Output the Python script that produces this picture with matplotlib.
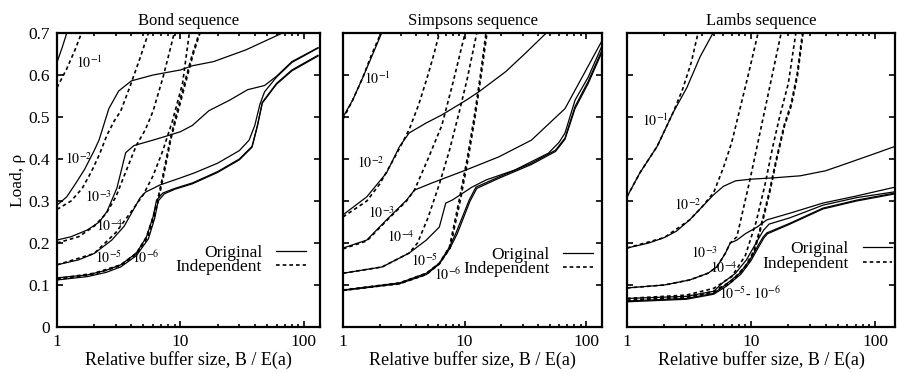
import matplotlib
matplotlib.use("Agg")
import matplotlib.pyplot as plt
from matplotlib.lines import Line2D
from matplotlib.ticker import LogLocator, NullFormatter, FixedLocator

plt.rcParams['font.family'] = ['Liberation Serif', 'DejaVu Serif']
plt.rcParams['mathtext.fontset'] = 'stix'

titles = ["Bond sequence", "Simpsons sequence", "Lambs sequence"]
loss_labels = ["$10^{-1}$", "$10^{-2}$", "$10^{-3}$", "$10^{-4}$", "$10^{-5}$", "$10^{-6}$"]
y_ticks = [0, 0.1, 0.2, 0.3, 0.4, 0.5, 0.6, 0.7]
x_ticks = [1, 10, 100]

# ---- Bond sequence ----
bond_o1_x = [1, 1.1, 1.2]
bond_o1_y = [0.63, 0.665, 0.70]
bond_d1_x = [1, 1.2, 1.4, 1.58]
bond_d1_y = [0.57, 0.615, 0.66, 0.70]
bond_o2_x = [1, 1.2, 1.44, 1.67, 2.0, 2.19, 2.63, 3.16, 4.0, 6.0, 10, 12.5, 18.6, 34, 67]
bond_o2_y = [0.29, 0.31, 0.345, 0.375, 0.42, 0.445, 0.52, 0.562, 0.586, 0.60, 0.612, 0.622, 0.632, 0.66, 0.70]
bond_d2_x = [1, 1.3, 1.6, 1.9, 2.2, 2.54, 2.9, 3.28, 3.94, 4.7, 5.5]
bond_d2_y = [0.28, 0.30, 0.33, 0.37, 0.41, 0.457, 0.49, 0.514, 0.576, 0.64, 0.70]
bond_o3_x = [1, 1.3, 1.76, 2.2, 2.54, 3.05, 3.3, 3.6, 4.2, 6, 8.2, 10, 12.5, 17, 25, 35, 48, 60, 80, 130]
bond_o3_y = [0.207, 0.215, 0.231, 0.25, 0.275, 0.33, 0.37, 0.415, 0.432, 0.445, 0.457, 0.465, 0.48, 0.515, 0.54, 0.565, 0.575, 0.597, 0.632, 0.665]
bond_d3_x = [1, 1.5, 2, 2.5, 3, 3.5, 4.4, 5.2, 6.0, 7.2, 8.3, 8.9]
bond_d3_y = [0.20, 0.215, 0.24, 0.27, 0.31, 0.36, 0.433, 0.47, 0.514, 0.593, 0.664, 0.70]
bond_o4_x = [1, 1.5, 2, 2.78, 3.5, 3.94, 4.7, 5.2, 6, 6.8, 10, 13, 20, 30, 36, 40, 44, 48, 60, 80, 130]
bond_o4_y = [0.148, 0.16, 0.175, 0.207, 0.24, 0.267, 0.307, 0.321, 0.33, 0.338, 0.355, 0.367, 0.39, 0.42, 0.445, 0.48, 0.53, 0.56, 0.595, 0.63, 0.664]
bond_d4_x = [1, 2, 3, 4, 5.0, 6.0, 7.2, 8.6, 10.4, 11.8]
bond_d4_y = [0.148, 0.175, 0.225, 0.275, 0.315, 0.36, 0.42, 0.49, 0.58, 0.70]
bond_o5_x = [1, 1.76, 2.5, 3.28, 4.4, 5.3, 6.0, 6.4, 7.2, 9, 12.5, 20, 30, 38, 42, 46, 60, 80, 130]
bond_o5_y = [0.117, 0.124, 0.135, 0.148, 0.176, 0.214, 0.262, 0.302, 0.319, 0.33, 0.343, 0.37, 0.40, 0.43, 0.48, 0.535, 0.58, 0.612, 0.647]
bond_o6_x = [1, 1.76, 2.5, 3.28, 4.4, 5.5, 6.2, 6.6, 7.4, 9, 12.5, 20, 30, 38, 42, 46, 60, 80, 130]
bond_o6_y = [0.112, 0.12, 0.13, 0.143, 0.17, 0.21, 0.26, 0.30, 0.317, 0.328, 0.341, 0.368, 0.398, 0.428, 0.478, 0.533, 0.578, 0.61, 0.645]
bond_d5_x = [1, 2, 3.28, 4.4, 5.3, 6.0, 6.5, 7.2, 8.3, 9.5, 11, 12.5, 14.2]
bond_d5_y = [0.115, 0.128, 0.148, 0.176, 0.214, 0.262, 0.30, 0.36, 0.45, 0.52, 0.59, 0.65, 0.70]
bond_d6_x = [1, 2, 3.28, 4.4, 5.4, 6.1, 6.6, 7.3, 8.4, 9.7, 11.2, 12.7, 14.4]
bond_d6_y = [0.113, 0.126, 0.146, 0.174, 0.212, 0.26, 0.30, 0.36, 0.45, 0.52, 0.59, 0.65, 0.70]

# ---- Simpsons sequence ----
simp_o1_x = [1, 1.2, 1.46, 1.7, 2.08]
simp_o1_y = [0.50, 0.54, 0.595, 0.64, 0.70]
simp_d1_x = [1, 1.2, 1.46, 1.7, 2.05]
simp_d1_y = [0.495, 0.54, 0.595, 0.645, 0.70]
simp_o2_x = [1, 1.57, 2.28, 2.92, 3.5, 4.85, 6.5, 10.3, 13.1, 21.8, 31.7, 47]
simp_o2_y = [0.267, 0.31, 0.367, 0.43, 0.462, 0.486, 0.505, 0.54, 0.56, 0.608, 0.652, 0.70]
simp_d2_x = [1, 1.57, 2.0, 2.56, 3.1, 3.5, 4.2, 5.0, 5.6, 6.2]
simp_d2_y = [0.262, 0.30, 0.34, 0.395, 0.44, 0.47, 0.53, 0.60, 0.65, 0.70]
simp_o3_x = [1, 1.57, 2.28, 3.33, 3.87, 5.4, 10.3, 19.1, 35.5, 67, 140]
simp_o3_y = [0.188, 0.207, 0.255, 0.302, 0.326, 0.343, 0.374, 0.405, 0.445, 0.52, 0.69]
simp_d3_x = [1, 1.57, 2.28, 3.33, 3.87, 5.0, 6.5, 8.0, 10.1]
simp_d3_y = [0.186, 0.205, 0.253, 0.30, 0.326, 0.40, 0.48, 0.58, 0.70]
simp_o4_x = [1, 2.1, 3.5, 4.85, 6.2, 7.0, 7.9, 11.5, 15, 26, 49, 60, 67, 81, 104, 140]
simp_o4_y = [0.128, 0.143, 0.176, 0.207, 0.238, 0.295, 0.302, 0.333, 0.35, 0.374, 0.414, 0.44, 0.462, 0.54, 0.595, 0.68]
simp_d4_x = [1, 2.1, 3.5, 4.1, 5, 6.2, 7.5, 9, 10.5, 12.6]
simp_d4_y = [0.128, 0.143, 0.176, 0.20, 0.26, 0.34, 0.42, 0.51, 0.59, 0.70]
simp_o5_x = [1, 2.92, 4.85, 6.2, 7.5, 8.5, 10.9, 12.4, 19.1, 35.5, 56, 67, 81, 104, 140]
simp_o5_y = [0.088, 0.105, 0.128, 0.152, 0.19, 0.224, 0.302, 0.333, 0.357, 0.39, 0.421, 0.45, 0.525, 0.585, 0.67]
simp_o6_x = [1, 2.92, 4.85, 6.2, 7.6, 8.7, 11.1, 12.6, 19.1, 35.5, 56, 67, 81, 104, 140]
simp_o6_y = [0.087, 0.103, 0.125, 0.15, 0.188, 0.222, 0.30, 0.33, 0.354, 0.387, 0.418, 0.447, 0.52, 0.58, 0.665]
simp_d5_x = [1, 2.92, 4.85, 6.2, 7.5, 9, 10.5, 12, 13.5, 15]
simp_d5_y = [0.088, 0.105, 0.128, 0.152, 0.19, 0.30, 0.40, 0.50, 0.60, 0.70]
simp_d6_x = [1, 2.92, 4.85, 6.2, 7.6, 9.2, 10.7, 12.2, 13.7, 15.3]
simp_d6_y = [0.087, 0.103, 0.125, 0.15, 0.188, 0.30, 0.40, 0.50, 0.60, 0.70]

# ---- Lambs sequence ----
lamb_o1_x = [1, 1.27, 1.75, 2.35, 3.04, 3.88, 4.94]
lamb_o1_y = [0.31, 0.367, 0.43, 0.51, 0.57, 0.643, 0.70]
lamb_d1_x = [1, 1.27, 1.75, 2.35, 2.8, 3.3, 3.74]
lamb_d1_y = [0.31, 0.367, 0.43, 0.51, 0.565, 0.63, 0.70]
lamb_o2_x = [1, 1.5, 2, 2.5, 3.2, 4, 5, 6, 7.5, 10, 15, 25, 40, 60, 100, 145]
lamb_o2_y = [0.188, 0.2, 0.213, 0.228, 0.255, 0.285, 0.315, 0.335, 0.348, 0.352, 0.355, 0.36, 0.372, 0.39, 0.413, 0.43]
lamb_d2_x = [1, 2, 3.2, 4, 5, 6, 7, 8, 9.5, 11.4]
lamb_d2_y = [0.188, 0.213, 0.255, 0.285, 0.32, 0.38, 0.44, 0.51, 0.60, 0.70]
lamb_o3_x = [1, 2, 3.2, 4.5, 5.3, 6.2, 6.8, 7.7, 9, 11.2, 13.4, 20.6, 38, 71, 145]
lamb_o3_y = [0.093, 0.10, 0.112, 0.128, 0.143, 0.175, 0.20, 0.207, 0.222, 0.238, 0.255, 0.271, 0.295, 0.312, 0.333]
lamb_d3_x = [1, 2, 3.2, 4.5, 5.3, 6.2, 6.8, 7.7, 9.8, 13, 17.5]
lamb_d3_y = [0.093, 0.10, 0.112, 0.128, 0.143, 0.175, 0.20, 0.215, 0.35, 0.52, 0.70]
lamb_o4_x = [1, 3, 5, 5.9, 7.5, 9.2, 10.5, 11.7, 12.6, 14, 20.6, 38, 71, 145]
lamb_o4_y = [0.068, 0.073, 0.085, 0.105, 0.128, 0.16, 0.19, 0.214, 0.23, 0.245, 0.26, 0.29, 0.308, 0.322]
lamb_d4_x = [1, 3, 5, 7, 9, 11, 13, 15, 17, 20, 23]
lamb_d4_y = [0.068, 0.076, 0.092, 0.12, 0.17, 0.25, 0.34, 0.43, 0.50, 0.58, 0.70]
lamb_o5_x = [1, 3, 5, 6.2, 8.1, 9.8, 11.2, 12.5, 13.4, 20.6, 38, 71, 145]
lamb_o5_y = [0.062, 0.068, 0.08, 0.10, 0.128, 0.16, 0.19, 0.214, 0.224, 0.247, 0.283, 0.302, 0.319]
lamb_o6_x = [1, 3, 5, 6.4, 8.3, 10, 11.4, 12.7, 13.6, 20.6, 38, 71, 145]
lamb_o6_y = [0.06, 0.066, 0.078, 0.098, 0.126, 0.158, 0.188, 0.212, 0.222, 0.245, 0.281, 0.30, 0.317]
lamb_d5_x = [1, 3, 5, 7, 9, 10.5, 12, 14, 16, 18.5, 21, 23.5, 26]
lamb_d5_y = [0.064, 0.072, 0.085, 0.11, 0.145, 0.18, 0.24, 0.32, 0.40, 0.48, 0.53, 0.60, 0.70]
lamb_d6_x = [1, 3, 5, 7, 9.1, 10.6, 12.1, 14.1, 16.1, 18.6, 21.2, 23.7, 26.3]
lamb_d6_y = [0.062, 0.070, 0.083, 0.108, 0.143, 0.178, 0.238, 0.318, 0.398, 0.478, 0.528, 0.598, 0.70]

panels = [
    dict(orig=[(bond_o1_x, bond_o1_y), (bond_o2_x, bond_o2_y), (bond_o3_x, bond_o3_y),
               (bond_o4_x, bond_o4_y), (bond_o5_x, bond_o5_y), (bond_o6_x, bond_o6_y)],
         ind=[(bond_d1_x, bond_d1_y), (bond_d2_x, bond_d2_y), (bond_d3_x, bond_d3_y),
              (bond_d4_x, bond_d4_y), (bond_d5_x, bond_d5_y), (bond_d6_x, bond_d6_y)],
         labels=[(1.83, 0.63), (1.5, 0.40), (2.15, 0.31), (2.65, 0.24), (2.63, 0.165), (5.2, 0.165)],
         pos=[57, 263], leg=(0.945, 0.228)),
    dict(orig=[(simp_o1_x, simp_o1_y), (simp_o2_x, simp_o2_y), (simp_o3_x, simp_o3_y),
               (simp_o4_x, simp_o4_y), (simp_o5_x, simp_o5_y), (simp_o6_x, simp_o6_y)],
         ind=[(simp_d1_x, simp_d1_y), (simp_d2_x, simp_d2_y), (simp_d3_x, simp_d3_y),
              (simp_d4_x, simp_d4_y), (simp_d5_x, simp_d5_y), (simp_d6_x, simp_d6_y)],
         labels=[(1.9, 0.59), (1.68, 0.39), (2.08, 0.27), (3.0, 0.215), (4.7, 0.158), (7.2, 0.124)],
         pos=[343, 259], leg=(0.965, 0.221)),
    dict(orig=[(lamb_o1_x, lamb_o1_y), (lamb_o2_x, lamb_o2_y), (lamb_o3_x, lamb_o3_y),
               (lamb_o4_x, lamb_o4_y), (lamb_o5_x, lamb_o5_y), (lamb_o6_x, lamb_o6_y)],
         ind=[(lamb_d1_x, lamb_d1_y), (lamb_d2_x, lamb_d2_y), (lamb_d3_x, lamb_d3_y),
              (lamb_d4_x, lamb_d4_y), (lamb_d5_x, lamb_d5_y), (lamb_d6_x, lamb_d6_y)],
         labels=[(1.7, 0.49), (3.1, 0.29), (4.2, 0.175), (6.0, 0.14), None, None],
         pos=[627, 268], leg=(0.99, 0.24)),
]

W, H = 897, 373
fig = plt.figure(figsize=(W / 100, H / 100), dpi=100)
dash = (0, (2.2, 1.8))

for i, p in enumerate(panels):
    left, width = p['pos']
    ax = fig.add_axes([left / W, 46 / H, width / W, 294 / H])
    for x, y in p['orig']:
        ax.plot(x, y, color='black', lw=0.9, solid_joinstyle='round')
    for x, y in p['ind']:
        ax.plot(x, y, color='black', lw=1.2, linestyle=dash)
    for lab, xy in zip(loss_labels, p['labels']):
        if xy is not None:
            ax.text(xy[0], xy[1], lab, fontsize=10, ha='center', va='center')
    if i == 2:
        ax.text(9.8, 0.08, "$10^{-5}$- $10^{-6}$", fontsize=10, ha='center', va='center')

    ax.set_xscale('log')
    ax.set_xlim(1, 135 if i < 2 else 145)
    ax.set_ylim(0, 0.7)
    ax.xaxis.set_major_locator(FixedLocator(x_ticks))
    ax.set_xticklabels(['1', '10', '100'])
    ax.xaxis.set_minor_locator(LogLocator(base=10, subs=range(2, 10)))
    ax.xaxis.set_minor_formatter(NullFormatter())
    ax.set_yticks(y_ticks)
    if i == 0:
        ax.set_yticklabels(['0', '0.1', '0.2', '0.3', '0.4', '0.5', '0.6', '0.7'])
        ax.set_ylabel("Load, ρ", fontsize=12.5, labelpad=2)
    else:
        ax.set_yticklabels([])
    ax.tick_params(which='both', direction='in', top=True, right=True, labelsize=12.5, pad=5)
    ax.tick_params(which='major', length=4, width=1.2)
    ax.tick_params(which='minor', length=2.5, width=1.2)
    for s in ax.spines.values():
        s.set_linewidth(1.6)
    ax.set_title(titles[i], fontsize=12, pad=6)
    ax.set_xlabel("Relative buffer size, B / E(a)", fontsize=13, labelpad=1)

    handles = [Line2D([], [], color='black', lw=0.9),
               Line2D([], [], color='black', lw=1.2, linestyle=dash)]
    ax.legend(handles, ["Original", "Independent"], loc='center right',
              bbox_to_anchor=p['leg'], markerfirst=False, frameon=False,
              fontsize=12.5, handlelength=1.7, handletextpad=0.8,
              labelspacing=-0.1, borderpad=0, borderaxespad=0)

fig.savefig("out.png", dpi=100)
